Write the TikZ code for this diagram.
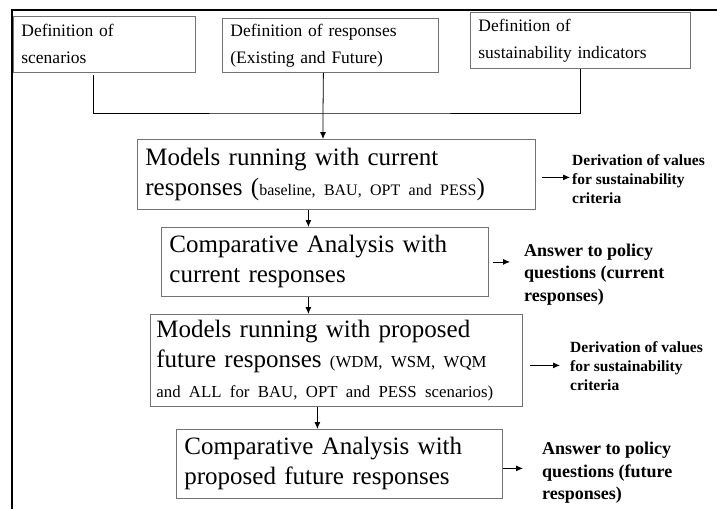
\documentclass[tikz,border=0pt]{standalone}
\usepackage{fontspec}
\setmainfont{Liberation Serif}
\usetikzlibrary{arrows.meta}

\newcommand{\smallpart}[2]{{\fontsize{#1}{30}\selectfont #2}}

\begin{document}
\begin{tikzpicture}[x=1pt, y=-1pt,
    box/.style={draw=black!55, line width=0.8pt, anchor=north west, align=left, inner xsep=8pt, inner ysep=0pt},
    defbox/.style={box, font=\fontsize{17.5}{27}\selectfont},
    bigbox/.style={box, font=\fontsize{25}{30}\selectfont},
    result/.style={anchor=west, align=left, inner sep=2pt, font=\bfseries\fontsize{15.5}{19}\selectfont},
    answer/.style={result, font=\bfseries\fontsize{18}{22.5}\selectfont},
    flow/.style={-{Latex[length=7pt,width=6pt]}, line width=0.8pt}]
    \useasboundingbox (0,0) rectangle (717,509);

    % Frame
    \draw[line width=2.5pt] (12,509) -- (12,10) -- (717,10);

    % Definitions
    \node[defbox, text width=166pt, minimum height=56pt] (scen) at (13,16) {Definition of\\scenarios};
    \node[defbox, text width=200pt, minimum height=54pt] (resp) at (222,18) {Definition of responses\\(Existing and Future)};
    \node[defbox, text width=204pt, minimum height=56pt] (indic) at (470,12) {Definition of\\sustainability indicators};

    % Steps
    \node[bigbox, text width=382pt, minimum height=70pt] (runcur) at (137,139)
        {Models running with current\\responses (\smallpart{16}{baseline, BAU, OPT and PESS})};
    \node[bigbox, text width=311pt, minimum height=69pt] (compcur) at (161,227)
        {Comparative Analysis with\\current responses};
    \node[bigbox, inner xsep=6pt, text width=360pt, minimum height=92pt] (runfut) at (150,314)
        {Models running with proposed\\future responses \smallpart{16.8}{(WDM, WSM, WQM}\\\smallpart{16.8}{and ALL for BAU, OPT and PESS scenarios)}};
    \node[bigbox, text width=310pt, minimum height=69pt] (compfut) at (176,429)
        {Comparative Analysis with\\proposed future responses};

    % Results
    \node[result] (derivcur) at (570,179) {Derivation of values\\for sustainability\\criteria};
    \node[answer] (answcur) at (522,274.5) {Answer to policy\\questions (current\\responses)};
    \node[result] (derivfut) at (568,366) {Derivation of values\\for sustainability\\criteria};
    \node[answer] (answfut) at (540,473) {Answer to policy\\questions (future\\responses)};

    % Joining lines
    \coordinate (join) at (323,113);
    \draw[line width=0.8pt] ([xshift=-11pt,yshift=-2pt]scen.south) |- (join) -| (indic.south);
    \draw[flow] ([xshift=-7pt]resp.south) -- (join) -- (join |- runcur.north);

    % Down the chain
    \draw[flow] ([xshift=-28pt]runcur.south) -- ([xshift=-28pt]runcur.south |- compcur.north);
    \draw[flow] ([xshift=-16.5pt]compcur.south) -- ([xshift=-16.5pt]compcur.south |- runfut.north);
    \draw[flow] ([xshift=-19pt]runfut.south) -- ([xshift=-19pt]runfut.south |- compfut.north);

    % Out to the results
    \draw[flow] ([xshift=6pt,yshift=-3pt]runcur.east) -- ([yshift=-3pt]runcur.east -| derivcur.west);
    \draw[flow, shorten >=12pt] ([xshift=4pt]compcur.east) -- (compcur.east -| answcur.west);
    \draw[flow, shorten >=8pt] ([xshift=7pt,yshift=-5pt]runfut.east) -- ([yshift=-5pt]runfut.east -| derivfut.west);
    \draw[flow, shorten >=17pt] ([yshift=-4.5pt]compfut.east) -- ([yshift=-4.5pt]compfut.east -| answfut.west);
\end{tikzpicture}
\end{document}
